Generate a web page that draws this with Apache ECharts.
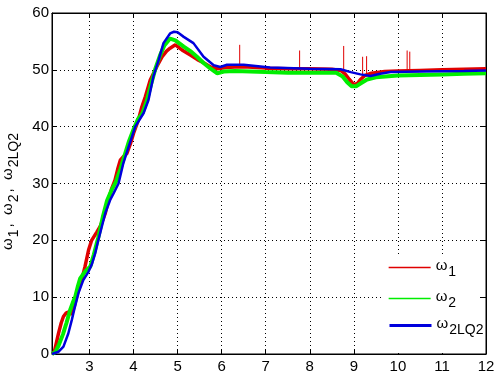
<!DOCTYPE html>
<html><head><meta charset="utf-8">
<script src="https://cdn.jsdelivr.net/npm/echarts@6/dist/echarts.min.js"></script>
<style>html,body{margin:0;padding:0;background:#fff}#c{width:496px;height:376px}</style>
</head><body><div id="c"></div>
<script>
var xTicks = [3,4,5,6,7,8,9,10,11,12];
var yTicks = [0,10,20,30,40,50,60];
var omega1 = [[2.15,0],[2.2,0.3],[2.25,2],[2.3,3.7],[2.36,5.5],[2.41,6.6],[2.47,7.2],[2.52,7.4],[2.6,7.0],[2.66,8.5],[2.71,10.1],[2.78,12],[2.84,13.5],[2.9,15.4],[2.98,18.3],[3.05,20],[3.17,21.5],[3.24,22.4],[3.3,23.5],[3.36,24.8],[3.43,27.1],[3.5,29],[3.58,30.6],[3.64,32.5],[3.7,34.1],[3.78,34.8],[3.85,35.3],[3.93,37],[4.0,38.8],[4.11,41.2],[4.19,43.5],[4.27,45.3],[4.38,48.2],[4.53,50.6],[4.65,52.3],[4.75,53.3],[4.83,53.8],[4.95,54.4],[5.1,53.5],[5.29,52.6],[5.45,51.8],[5.6,51.2],[5.75,50.5],[5.9,50.2],[6.1,50.4],[6.3,50.5],[6.6,50.5],[7.0,50.3],[7.5,50.2],[8.0,50.2],[8.5,50.1],[8.7,49.9],[8.8,49.3],[8.9,48.3],[9.0,47.4],[9.08,47.6],[9.15,48.3],[9.25,49.0],[9.4,49.4],[9.7,49.7],[10,49.8],[10.5,49.9],[11,50.0],[11.5,50.1],[12,50.2]];
var omega2 = [[2.15,0],[2.22,0.3],[2.3,1.5],[2.4,3.5],[2.48,5.5],[2.56,7.7],[2.62,9],[2.68,10.1],[2.74,12],[2.79,13.3],[2.9,14.5],[3.02,15.4],[3.1,17.5],[3.2,20.5],[3.3,24],[3.4,27],[3.5,28.8],[3.6,30.3],[3.7,32.5],[3.8,35],[3.9,37.5],[4.0,39.5],[4.1,41.3],[4.2,42.3],[4.3,44.5],[4.4,47.5],[4.5,50.3],[4.6,52.5],[4.7,54.3],[4.83,55.5],[4.95,55.2],[5.14,54.1],[5.29,53.3],[5.44,52.3],[5.59,51.2],[5.75,50.2],[5.9,49.4],[6.05,49.7],[6.3,49.8],[7.0,49.6],[7.5,49.5],[8.0,49.5],[8.6,49.5],[8.75,48.8],[8.85,47.8],[8.95,47.1],[9.05,47.1],[9.15,47.6],[9.3,48.3],[9.5,48.7],[10,49.0],[10.5,49.1],[11,49.2],[11.5,49.3],[12,49.4]];
var omega2LQ2 = [[2.15,0],[2.3,0.4],[2.41,1.3],[2.52,3.6],[2.6,6],[2.67,8.3],[2.75,10.7],[2.86,13],[2.98,14.5],[3.05,15.7],[3.13,17.7],[3.2,20],[3.28,22.4],[3.36,24.8],[3.47,27.1],[3.55,28.3],[3.66,30],[3.77,33.6],[3.89,36.5],[4.04,40],[4.23,42.4],[4.34,44.7],[4.45,48.8],[4.57,51.7],[4.68,54.7],[4.83,56.4],[4.92,56.7],[5.0,56.6],[5.14,55.8],[5.36,54.7],[5.59,52.3],[5.82,50.8],[5.97,50.5],[6.12,50.9],[6.5,50.9],[7.1,50.4],[8.0,50.2],[8.7,50.1],[8.93,49.6],[9.15,49.2],[9.38,48.9],[9.6,49.3],[9.83,49.6],[10.5,49.7],[11.5,49.8],[12,49.9]];
var spikes1 = [[6.41,50.8,54.4],[7.77,50.4,53.4],[8.77,50,54.2],[9.2,48.5,52.3],[9.29,49,52.4],[10.21,49.8,53.4],[10.27,49.8,53.2]];
var names = ['ω1','ω2','ω2LQ2'];

var FONT = 'Liberation Sans';
var chart = echarts.init(document.getElementById('c'), null, {renderer:'canvas'});
function axisX(pos, labels){
  return {type:'value', position:pos, min:2.15, max:12, splitNumber:10,
    axisLine:{show:true, onZero:false, lineStyle:{color:'#000', width:1}},
    axisTick:{show:true, inside:true, length:5, lineStyle:{color:'#000'}},
    axisLabel:{show:labels, color:'#000', fontSize:15, fontFamily:FONT, margin:5, showMinLabel:false,
      formatter:function(v){return xTicks.indexOf(Math.round(v*100)/100)>=0 ? String(v) : '';}},
    splitLine:{show:labels, lineStyle:{color:'#000', type:[1,3], width:1}}};
}
function axisY(pos, labels){
  return {type:'value', position:pos, min:yTicks[0], max:yTicks[yTicks.length-1], interval:10,
    axisLine:{show:true, onZero:false, lineStyle:{color:'#000', width:1}},
    axisTick:{show:true, inside:true, length:5, lineStyle:{color:'#000'}},
    axisLabel:{show:labels, color:'#000', fontSize:15, fontFamily:FONT, margin:3},
    splitLine:{show:labels, lineStyle:{color:'#000', type:[1,3], width:1}}};
}
var yA = axisY('left', true);
yA.name = '{w|ω}{s|1}{w|,  ω}{s|2}{w|,  ω}{s|2LQ2}';
yA.nameLocation = 'middle';
yA.nameRotate = 90;
yA.nameGap = 27;
yA.nameTextStyle = {color:'#000', fontFamily:FONT, padding:[0,14,0,0], rich:{
  w:{fontSize:15, fontFamily:FONT, color:'#000', padding:[0,1,4,0]},
  s:{fontSize:14, fontFamily:FONT, color:'#000', padding:[10,2,0,0]}}};
var richLeg = {w:{fontSize:15, fontFamily:FONT, color:'#000', padding:[0,1,4,0]}, s:{fontSize:14, fontFamily:FONT, color:'#000', padding:[10,0,0,0]}};
var legendTops = [258, 289, 316];
var legendWidths = [1.3, 1.3, 3];
function mkLegend(i){
  return {orient:'vertical', left:388, top:legendTops[i], itemWidth:42, itemHeight:14, padding:0, z:5,
    itemStyle:{opacity:0},
    textStyle:{color:'#000', fontSize:15, fontFamily:FONT, rich:richLeg},
    formatter:function(n){ return '{w|ω}{s|' + n.slice(1) + '}'; },
    data:[{name:names[i], lineStyle:{width:legendWidths[i]}, itemStyle:{opacity:0}}]};
}
var option = {
  animation:false,
  backgroundColor:'#fff',
  grid:{left:52, right:10, top:13, bottom:22, outerBoundsMode:'none', containLabel:false, show:true, borderColor:'#000', borderWidth:1, backgroundColor:'rgba(0,0,0,0)'},
  xAxis:[axisX('bottom', true), axisX('top', false)],
  yAxis:[yA, axisY('right', false)],
  legend:[mkLegend(0), mkLegend(1), mkLegend(2)],
  graphic:[{type:'rect', left:383, top:257, z:1, silent:true, shape:{width:97, height:96}, style:{fill:'#fff'}}],
  series:[
    {name:names[0], type:'line', data:omega1, showSymbol:false, symbol:'none', lineStyle:{color:'#e00000', width:3.5}, itemStyle:{color:'#e00000'}, z:2},
    {type:'custom', data:spikes1, z:2, renderItem:function(params, api){
      var p1 = api.coord([api.value(0), api.value(1)]);
      var p2 = api.coord([api.value(0), api.value(2)]);
      return {type:'line', shape:{x1:p1[0], y1:p1[1], x2:p2[0], y2:p2[1]}, style:{stroke:'#e00000', lineWidth:1}};
    }, encode:{x:0, y:[1,2]}},
    {name:names[1], type:'line', data:omega2, showSymbol:false, symbol:'none', lineStyle:{color:'#00ee00', width:4}, itemStyle:{color:'#00ee00'}, z:3},
    {name:names[2], type:'line', data:omega2LQ2, showSymbol:false, symbol:'none', lineStyle:{color:'#0000dd', width:2.5}, itemStyle:{color:'#0000dd'}, z:4}
  ]
};
chart.setOption(option);
</script></body></html>
